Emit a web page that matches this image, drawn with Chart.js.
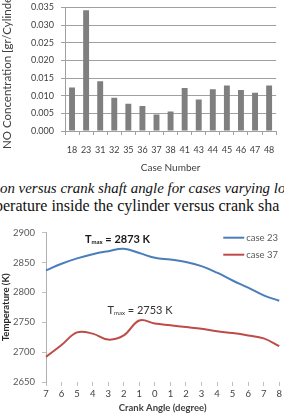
<!DOCTYPE html>
<html>
<head>
<meta charset="utf-8">
<script src="https://cdn.jsdelivr.net/npm/chart.js@4.4.1/dist/chart.umd.min.js"></script>
<style>
  html, body { margin:0; padding:0; background:#fff; }
  body { width:284px; height:415px; overflow:hidden; position:relative; }
  .box { position:absolute; left:0; width:284px; }
  .cap { position:absolute; white-space:nowrap; color:#111; font-family:'Liberation Serif', 'DejaVu Serif', serif; line-height:1.1; }
</style>
</head>
<body>
<div class="box" style="top:-5px;height:184px"><canvas id="barChart"></canvas></div>
<div class="cap" style="left:0;top:180px;font-size:14.9px;font-style:italic;">on versus crank shaft angle for cases varying lo</div>
<div class="cap" style="left:-5px;top:197px;font-size:16px;">perature inside the cylinder versus crank sha</div>
<div class="box" style="top:220px;height:195px"><canvas id="lineChart"></canvas></div>
<script>
// ---- Data: NO concentration per case ----
const caseNumbers = ['18','23','31','32','35','36','37','38','41','43','44','45','46','47','48'];
const noConcentration = [0.0123, 0.0342, 0.0141, 0.0094, 0.0077, 0.0071, 0.0047, 0.0055, 0.0122, 0.0089, 0.0118, 0.0129, 0.0116, 0.0108, 0.0129];
const noTicks = [0, 0.005, 0.010, 0.015, 0.020, 0.025, 0.030, 0.035];

// ---- Data: temperature vs crank angle ----
const crankLabels = ['7','6','5','4','3','2','1','0','1','2','3','4','5','6','7','8'];
const tempCase23 = [2837, 2848, 2857, 2864, 2869, 2873, 2866, 2858, 2855, 2851, 2844, 2833, 2820, 2808, 2795, 2786];
const tempCase37 = [2692, 2712, 2733, 2731, 2721, 2728, 2753, 2748, 2745, 2742, 2739, 2735, 2732, 2728, 2723, 2710];
const tempTicks = [2650, 2700, 2750, 2800, 2850, 2900];
const seriesNames = ['case 23', 'case 37'];
const tmaxValues = [2873, 2753];

const FONT = 'Lato, "Open Sans", sans-serif';

new Chart(document.getElementById('barChart'), {
  type: 'bar',
  data: {
    labels: caseNumbers,
    datasets: [{ data: noConcentration, backgroundColor: '#7f7f7f', categoryPercentage: 0.42, barPercentage: 1 }]
  },
  options: {
    responsive: true, maintainAspectRatio: false, animation: false, devicePixelRatio: 1,
    layout: { padding: { top: 2, right: 5, left: 0, bottom: 0 } },
    plugins: { legend: { display: false }, tooltip: { enabled: false } },
    scales: {
      x: {
        offset: true,
        afterFit: s => { s.height = 48; },
        grid: { display: true, drawOnChartArea: false, drawTicks: true, tickLength: 4, color: '#a0a0a0', offset: true },
        border: { display: true, color: '#a0a0a0' },
        ticks: { font: { family: FONT, size: 9 }, color: '#404040', padding: 9.5, autoSkip: false, maxRotation: 0 },
        title: { display: true, text: 'Case Number', font: { family: FONT, size: 10 }, color: '#404040', padding: { top: 4, bottom: 5 } }
      },
      y: {
        min: 0, max: 0.035,
        afterFit: s => { s.width = 65; },
        afterBuildTicks: s => { s.ticks = noTicks.map(v => ({ value: v })); },
        grid: { color: '#a0a0a0', tickLength: 4 },
        border: { display: true, color: '#a0a0a0' },
        ticks: { font: { family: FONT, size: 9 }, color: '#404040', padding: 7, callback: v => Number(v).toFixed(3) },
        title: { display: true, text: 'NO Concentration [gr/Cylinder]', font: { family: FONT, size: 11.5 }, color: '#404040', padding: { top: 0, bottom: 4 } }
      }
    }
  }
});

const annotations = [
  { ds: 0, xIndex: 4.6, yValue: 2889, bold: true, color: '#1a1a1a' },
  { ds: 1, xIndex: 6.05, yValue: 2771, bold: false, color: '#333333' }
];

const overlayPlugin = {
  id: 'overlay',
  afterDatasetsDraw(chart) {
    const ctx = chart.ctx, xs = chart.scales.x, ys = chart.scales.y, ca = chart.chartArea;
    ctx.save();
    chart.data.datasets.forEach((d, i) => {
      const y = ca.top + 5 + i * 17;
      const x0 = ca.right - 56;
      ctx.strokeStyle = d.borderColor; ctx.lineWidth = 2;
      ctx.beginPath(); ctx.moveTo(x0, y); ctx.lineTo(x0 + 21, y); ctx.stroke();
      ctx.fillStyle = '#595959'; ctx.font = '9.5px ' + FONT;
      ctx.textBaseline = 'middle'; ctx.textAlign = 'left';
      ctx.fillText(d.label, x0 + 23, y);
    });
    annotations.forEach((a, i) => {
      const p0 = xs.getPixelForValue(Math.floor(a.xIndex));
      const p1 = xs.getPixelForValue(Math.floor(a.xIndex) + 1);
      const cx = p0 + (p1 - p0) * (a.xIndex - Math.floor(a.xIndex));
      const cy = ys.getPixelForValue(a.yValue);
      const w = a.bold ? 'bold ' : '';
      const bigF = w + '11px ' + FONT, smallF = w + '6px ' + FONT;
      const rest = ' = ' + tmaxValues[i] + ' K';
      ctx.font = bigF; const wT = ctx.measureText('T').width; const wR = ctx.measureText(rest).width;
      ctx.font = smallF; const wS = ctx.measureText('max').width;
      let x = cx - (wT + wS + wR) / 2;
      ctx.fillStyle = a.color; ctx.textBaseline = 'alphabetic'; ctx.textAlign = 'left';
      const base = cy + 4;
      ctx.font = bigF; ctx.fillText('T', x, base); x += wT;
      ctx.font = smallF; ctx.fillText('max', x, base + 1); x += wS;
      ctx.font = bigF; ctx.fillText(rest, x, base);
    });
    ctx.restore();
  }
};

new Chart(document.getElementById('lineChart'), {
  type: 'line',
  data: {
    labels: crankLabels,
    datasets: [
      { label: seriesNames[0], data: tempCase23, borderColor: '#4a7ebb', borderWidth: 2, pointRadius: 0, tension: 0.4, fill: false },
      { label: seriesNames[1], data: tempCase37, borderColor: '#be4b48', borderWidth: 2, pointRadius: 0, tension: 0.4, fill: false }
    ]
  },
  options: {
    responsive: true, maintainAspectRatio: false, animation: false, devicePixelRatio: 1,
    layout: { padding: { top: 2, right: 4, left: 0, bottom: 0 } },
    plugins: { legend: { display: false }, tooltip: { enabled: false } },
    scales: {
      x: {
        offset: false,
        afterFit: s => { s.height = 33; },
        grid: { display: true, drawOnChartArea: false, drawTicks: true, tickLength: 4, color: '#bfbfbf' },
        border: { display: false },
        ticks: { font: { family: FONT, size: 9.5 }, color: '#404040', padding: 2, autoSkip: false, maxRotation: 0 },
        title: { display: true, text: 'Crank Angle (degree)', font: { family: FONT, size: 9.5, weight: 'bold' }, color: '#404040', padding: { top: 2, bottom: 1.5 } }
      },
      y: {
        min: 2650, max: 2900,
        afterFit: s => { s.width = 46; },
        afterBuildTicks: s => { s.ticks = tempTicks.map(v => ({ value: v })); },
        grid: { display: true, drawOnChartArea: false, tickLength: 4, color: '#bfbfbf' },
        border: { display: true, color: '#b0b0b0' },
        ticks: { font: { family: FONT, size: 9.5 }, color: '#595959', padding: 7, callback: v => String(v) },
        title: { display: true, text: 'Temperature (K)', font: { family: FONT, size: 9.5, weight: 'bold' }, color: '#262626', padding: { top: 0, bottom: 3 } }
      }
    }
  },
  plugins: [overlayPlugin]
});
</script>
</body>
</html>
